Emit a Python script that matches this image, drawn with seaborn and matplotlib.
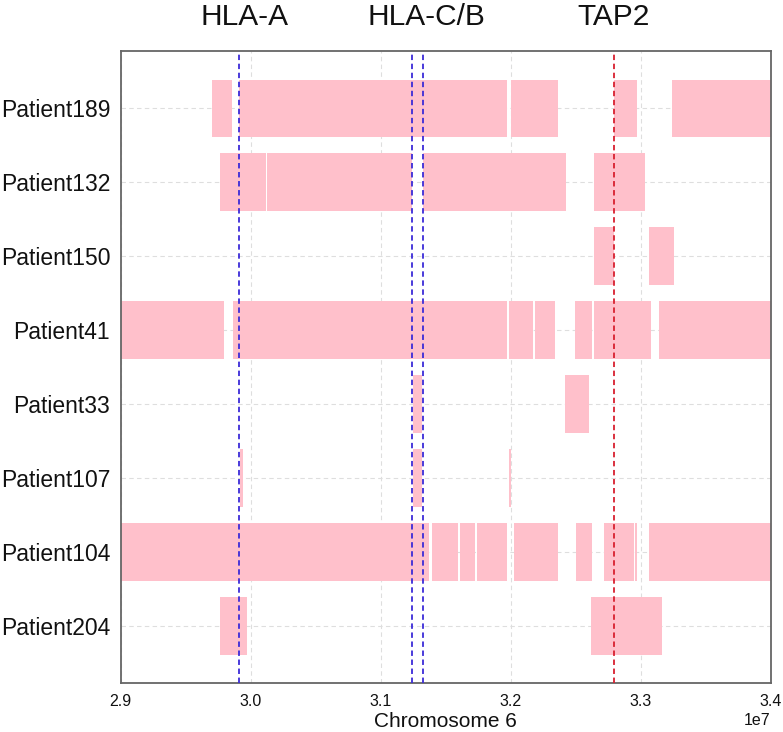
import matplotlib
matplotlib.use("Agg")
import matplotlib.pyplot as plt
import seaborn as sns
import numpy as np
import pandas as pd

# ---------------- data ----------------
patients = ["Patient189", "Patient132", "Patient150", "Patient41",
            "Patient33", "Patient107", "Patient104", "Patient204"]

# segments (start, end) in bp
seg_189 = [(29.702e6, 29.855e6), (29.912e6, 31.968e6), (32.006e6, 32.363e6),
           (32.794e6, 32.973e6), (33.240e6, 34.05e6)]
seg_132 = [(29.765e6, 30.119e6), (30.129e6, 31.240e6), (31.322e6, 32.427e6),
           (32.640e6, 33.035e6)]
seg_150 = [(32.642e6, 32.794e6), (33.063e6, 33.258e6)]
seg_41 = [(28.95e6, 29.794e6), (29.863e6, 31.968e6), (31.986e6, 32.168e6),
          (32.186e6, 32.337e6), (32.496e6, 32.629e6), (32.642e6, 33.081e6),
          (33.142e6, 34.05e6)]
seg_33 = [(31.252e6, 31.319e6), (32.417e6, 32.606e6)]
seg_107 = [(29.919e6, 29.940e6), (31.252e6, 31.319e6), (31.986e6, 32.006e6)]
seg_104 = [(28.95e6, 31.375e6), (31.391e6, 31.596e6), (31.612e6, 31.729e6),
           (31.742e6, 31.968e6), (32.025e6, 32.363e6), (32.506e6, 32.629e6),
           (32.717e6, 32.945e6), (32.958e6, 32.975e6), (33.065e6, 34.05e6)]
seg_204 = [(29.765e6, 29.973e6), (32.614e6, 33.163e6)]

segments = [seg_189, seg_132, seg_150, seg_41, seg_33, seg_107, seg_104, seg_204]

gene_names = ["HLA-A", "HLA-C/B", "TAP2"]
gene_label_x = [29.956e6, 31.354e6, 32.789e6]
blue_lines = [29.912e6, 31.242e6, 31.324e6]
red_lines = [32.794e6]

x_min, x_max = 2.9e7, 3.4e7

# ---------------- style ----------------
sns.set_style("whitegrid")
plt.rcParams["font.family"] = ["Liberation Sans", "DejaVu Sans"]

fig = plt.figure(figsize=(7.83, 7.32), dpi=100)
ax = fig.add_axes([0.1541, 0.0665, 0.8302, 0.8642])

rows = []
for i, (p, segs) in enumerate(zip(patients, segments)):
    for s, e in segs:
        rows.append({"patient": p, "y": i, "start": s, "width": e - s})
df = pd.DataFrame(rows)

ax.barh(df["y"], df["width"], left=df["start"], height=0.78,
        color="pink", edgecolor="none", zorder=2)

for x in blue_lines:
    ax.axvline(x, color="#3b2bd8", lw=1.3, linestyle=(0, (3, 2)), zorder=3)
for x in red_lines:
    ax.axvline(x, color="#d8202f", lw=1.3, linestyle=(0, (3, 2)), zorder=3)

ax.set_xlim(x_min, x_max)
ax.set_ylim(7.78, -0.78)
ax.set_yticks(range(len(patients)))
ax.set_yticklabels(patients, fontsize=16.5, color="#111111")
ax.set_xticks(np.arange(2.9e7, 3.41e7, 0.1e7))
ax.tick_params(axis="x", labelsize=11.5, pad=7.5, length=0, colors="#111111")
ax.tick_params(axis="y", pad=7.5, length=0)
ax.xaxis.get_offset_text().set_fontsize(11.5)

ax.grid(True, color="#dedede", linestyle=(0, (4, 3)), lw=0.8, zorder=0)
ax.set_axisbelow(True)
for sp in ax.spines.values():
    sp.set_color("#666666")
    sp.set_linewidth(1.3)

ax.set_xlabel("Chromosome 6", fontsize=15, labelpad=2, color="#111111")

for name, gx in zip(gene_names, gene_label_x):
    ax.text(gx, 1.0406, name, transform=ax.get_xaxis_transform(),
            ha="center", va="baseline", fontsize=21.5, color="#111111")

fig.savefig("out.png", dpi=100)
